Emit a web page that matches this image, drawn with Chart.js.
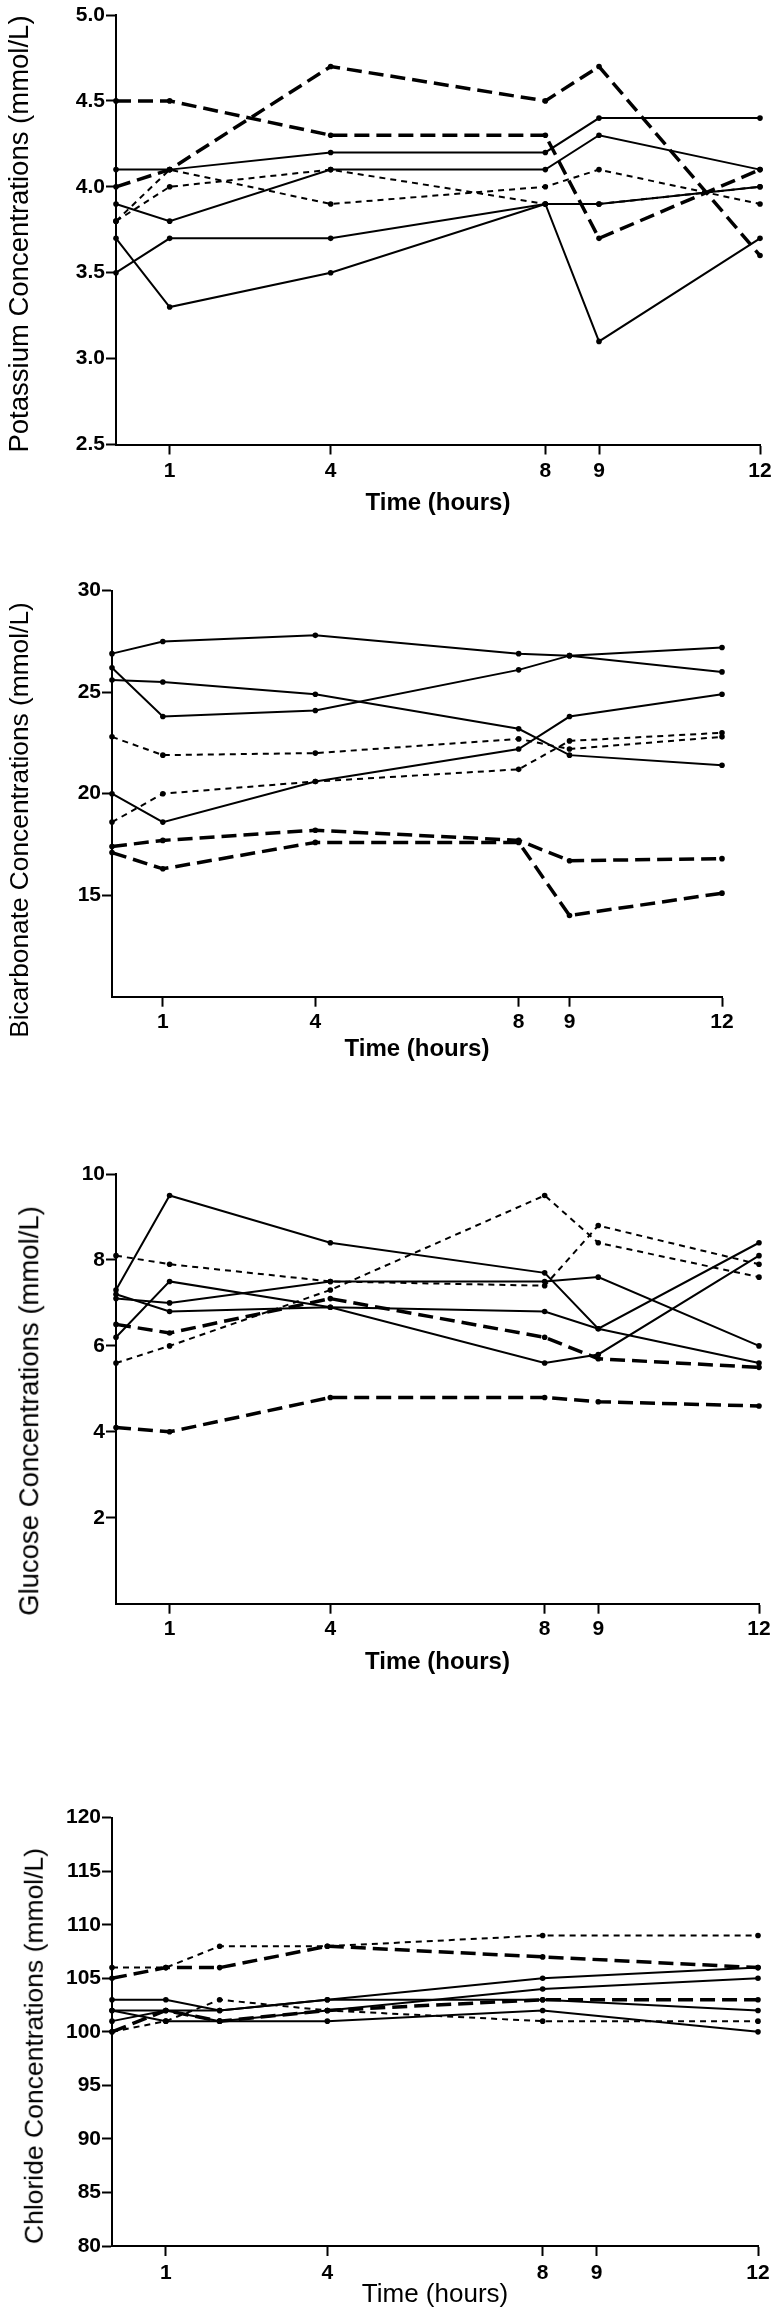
<!DOCTYPE html>
<html><head><meta charset="utf-8">
<script src="https://cdn.jsdelivr.net/npm/chart.js@4.4.1/dist/chart.umd.min.js"></script>
<style>
html,body{margin:0;padding:0;background:#fff;}
body{width:778px;height:2316px;position:relative;overflow:hidden;}
canvas{position:absolute;left:0;}
.ytitle{position:absolute;white-space:nowrap;line-height:1;color:#000;
  font-family:'Liberation Sans', Arial, Helvetica, sans-serif;font-weight:normal;
  transform:translate(-50%,-50%) rotate(-90deg);}
</style></head><body>
<canvas id="c1"></canvas>
<canvas id="c2"></canvas>
<canvas id="c3"></canvas>
<canvas id="c4"></canvas>
<script>
// ---------- data ----------
const times = [0, 1, 4, 8, 9, 12];
const chlorideTimes = [0, 1, 2, 4, 8, 12];
const xTickValues = [1, 4, 8, 9, 12];

// Potassium (mmol/L)
const potassiumTicks = [2.5, 3.0, 3.5, 4.0, 4.5, 5.0];
const potassiumSolid1 = [4.1, 4.1, 4.2, 4.2, 4.4, 4.4];
const potassiumSolid2 = [3.9, 3.8, 4.1, 4.1, 4.3, 4.1];
const potassiumSolid3 = [3.5, 3.7, 3.7, 3.9, 3.9, 4.0];
const potassiumSolid4 = [3.7, 3.3, 3.5, 3.9, 3.1, 3.7];
const potassiumDotted1 = [3.8, 4.0, 4.1, 3.9, 3.9, 4.0];
const potassiumDotted2 = [3.8, 4.1, 3.9, 4.0, 4.1, 3.9];
const potassiumDashed1 = [4.5, 4.5, 4.3, 4.3, 3.7, 4.1];
const potassiumDashed2 = [4.0, 4.1, 4.7, 4.5, 4.7, 3.6];

// Bicarbonate (mmol/L)
const bicarbonateTicks = [15, 20, 25, 30];
const bicarbonateSolid1 = [26.9, 27.5, 27.8, 26.9, 26.8, 27.2];
const bicarbonateSolid2 = [25.6, 25.5, 24.9, 23.2, 21.9, 21.4];
const bicarbonateSolid3 = [26.2, 23.8, 24.1, 26.1, 26.8, 26.0];
const bicarbonateSolid4 = [20.0, 18.6, 20.6, 22.2, 23.8, 24.9];
const bicarbonateDotted1 = [22.8, 21.9, 22.0, 22.7, 22.2, 22.8];
const bicarbonateDotted2 = [18.6, 20.0, 20.6, 21.2, 22.6, 23.0];
const bicarbonateDashed1 = [17.4, 17.7, 18.2, 17.7, 16.7, 16.8];
const bicarbonateDashed2 = [17.1, 16.3, 17.6, 17.6, 14.0, 15.1];

// Glucose (mmol/L)
const glucoseTicks = [2, 4, 6, 8, 10];
const glucoseSolid1 = [7.3, 9.5, 8.4, 7.7, 6.4, 8.4];
const glucoseSolid2 = [6.2, 7.5, 6.9, 5.6, 5.8, 8.1];
const glucoseSolid3 = [7.1, 7.0, 7.5, 7.5, 7.6, 6.0];
const glucoseSolid4 = [7.2, 6.8, 6.9, 6.8, 6.4, 5.6];
const glucoseDotted1 = [8.1, 7.9, 7.5, 7.4, 8.8, 7.9];
const glucoseDotted2 = [5.6, 6.0, 7.3, 9.5, 8.4, 7.6];
const glucoseDashed1 = [6.5, 6.3, 7.1, 6.2, 5.7, 5.5];
const glucoseDashed2 = [4.1, 4.0, 4.8, 4.8, 4.7, 4.6];

// Chloride (mmol/L)
const chlorideTicks = [80, 85, 90, 95, 100, 105, 110, 115, 120];
const chlorideSolid1 = [103, 103, 102, 103, 105, 106];
const chlorideSolid2 = [102, 102, 101, 102, 104, 105];
const chlorideSolid3 = [101, 102, 102, 103, 103, 102];
const chlorideSolid4 = [102, 101, 101, 101, 102, 100];
const chlorideDotted1 = [106, 106, 108, 108, 109, 109];
const chlorideDotted2 = [100, 101, 103, 102, 101, 101];
const chlorideDashed1 = [105, 106, 106, 108, 107, 106];
const chlorideDashed2 = [100, 102, 101, 102, 103, 103];

// ---------- styles ----------
const FONT = "'Liberation Sans', Arial, Helvetica, sans-serif";
const STYLE = {
  solid:  { borderWidth: 2,   borderDash: [] },
  dotted: { borderWidth: 2,   borderDash: [6, 5] },
  dashed: { borderWidth: 3.5, borderDash: [15, 7] }
};

function series(xs, ys, kind) {
  return Object.assign({
    data: xs.map((x, i) => ({ x: x, y: ys[i] })),
    borderColor: '#000',
    backgroundColor: '#000',
    pointRadius: 2.8,
    pointBorderWidth: 0,
    pointBackgroundColor: '#000',
    pointHoverRadius: 2.8,
    fill: false,
    tension: 0,
    clip: false,
    borderCapStyle: 'butt'
  }, STYLE[kind]);
}

function makePanel(p) {
  const cv = document.getElementById(p.id);
  cv.width = 778; cv.height = p.canvasHeight;
  cv.style.top = p.canvasTop + 'px';
  cv.style.width = '778px'; cv.style.height = p.canvasHeight + 'px';
  const tickFont = { family: FONT, size: 21, weight: 'bold' };
  const xTitleLH = p.xTitleSize * 1.2;

  const t = document.createElement('div');
  t.className = 'ytitle';
  t.textContent = p.yTitle;
  t.style.fontSize = p.yTitleSize + 'px';
  t.style.left = p.yTitleCx + 'px';
  t.style.top = p.yTitleCy + 'px';
  document.body.appendChild(t);

  new Chart(cv, {
    type: 'line',
    data: { datasets: p.series },
    options: {
      responsive: false,
      animation: false,
      devicePixelRatio: 1,
      events: [],
      layout: { padding: {
        left: 0,
        top: p.top - p.canvasTop,
        right: 778 - p.right,
        bottom: p.canvasTop + p.canvasHeight - p.bottom - p.xHeight
      } },
      plugins: { legend: { display: false }, tooltip: { enabled: false } },
      scales: {
        x: {
          type: 'linear', min: 0, max: 12,
          afterBuildTicks: s => { s.ticks = xTickValues.map(v => ({ value: v })); },
          afterFit: s => { s.height = p.xHeight; },
          grid: { display: true, drawOnChartArea: false, drawTicks: true, tickLength: 10, tickWidth: 2, tickColor: '#000' },
          border: { display: true, color: '#000', width: 2 },
          ticks: { color: '#000', font: tickFont, padding: p.xLabelOffset - 10 - 12.6, maxRotation: 0, autoSkip: false,
                   callback: v => String(v) },
          title: { display: true, text: 'Time (hours)', color: '#000',
                   font: { family: FONT, size: p.xTitleSize, weight: p.xTitleBold ? 'bold' : 'normal' },
                   padding: { top: 0, bottom: p.xHeight - p.xTitleOffset - xTitleLH / 2 } }
        },
        y: {
          type: 'linear', min: p.yMin, max: p.yMax,
          afterBuildTicks: s => { s.ticks = p.yTicks.map(v => ({ value: v })); },
          afterFit: s => { s.width = p.left; },
          grid: { display: true, drawOnChartArea: false, drawTicks: true, tickLength: 10, tickWidth: 2, tickColor: '#000' },
          border: { display: true, color: '#000', width: 2 },
          ticks: { color: '#000', font: tickFont, padding: 1, autoSkip: false, callback: p.yLabel },
          title: { display: false }
        }
      }
    }
  });
}

makePanel({
  id: 'c1', canvasTop: 0, canvasHeight: 545,
  left: 116, right: 760, top: 15, bottom: 444.5, xHeight: 80,
  yMin: 2.5, yMax: 5.0, yTicks: potassiumTicks, yLabel: v => Number(v).toFixed(1),
  yTitle: 'Potassium Concentrations (mmol/L)', yTitleSize: 27.5, yTitleCx: 19, yTitleCy: 234,
  xTitleSize: 24, xTitleBold: true, xLabelOffset: 27, xTitleOffset: 59,
  series: [
    series(times, potassiumSolid1, 'solid'),
    series(times, potassiumSolid2, 'solid'),
    series(times, potassiumSolid3, 'solid'),
    series(times, potassiumSolid4, 'solid'),
    series(times, potassiumDotted1, 'dotted'),
    series(times, potassiumDotted2, 'dotted'),
    series(times, potassiumDashed1, 'dashed'),
    series(times, potassiumDashed2, 'dashed')
  ]
});

makePanel({
  id: 'c2', canvasTop: 550, canvasHeight: 555,
  left: 112, right: 722, top: 590.7, bottom: 996.7, xHeight: 80,
  yMin: 10, yMax: 30, yTicks: bicarbonateTicks, yLabel: v => String(v),
  yTitle: 'Bicarbonate Concentrations (mmol/L)', yTitleSize: 26.3, yTitleCx: 19, yTitleCy: 820,
  xTitleSize: 24, xTitleBold: true, xLabelOffset: 26, xTitleOffset: 53,
  series: [
    series(times, bicarbonateSolid1, 'solid'),
    series(times, bicarbonateSolid2, 'solid'),
    series(times, bicarbonateSolid3, 'solid'),
    series(times, bicarbonateSolid4, 'solid'),
    series(times, bicarbonateDotted1, 'dotted'),
    series(times, bicarbonateDotted2, 'dotted'),
    series(times, bicarbonateDashed1, 'dashed'),
    series(times, bicarbonateDashed2, 'dashed')
  ]
});

makePanel({
  id: 'c3', canvasTop: 1110, canvasHeight: 580,
  left: 116, right: 759, top: 1174, bottom: 1603.7, xHeight: 80,
  yMin: 0, yMax: 10, yTicks: glucoseTicks, yLabel: v => String(v),
  yTitle: 'Glucose Concentrations (mmol/L)', yTitleSize: 27.5, yTitleCx: 29, yTitleCy: 1411,
  xTitleSize: 24, xTitleBold: true, xLabelOffset: 26, xTitleOffset: 59,
  series: [
    series(times, glucoseSolid1, 'solid'),
    series(times, glucoseSolid2, 'solid'),
    series(times, glucoseSolid3, 'solid'),
    series(times, glucoseSolid4, 'solid'),
    series(times, glucoseDotted1, 'dotted'),
    series(times, glucoseDotted2, 'dotted'),
    series(times, glucoseDashed1, 'dashed'),
    series(times, glucoseDashed2, 'dashed')
  ]
});

makePanel({
  id: 'c4', canvasTop: 1700, canvasHeight: 616,
  left: 112, right: 758, top: 1817.7, bottom: 2246, xHeight: 70,
  yMin: 80, yMax: 120, yTicks: chlorideTicks, yLabel: v => String(v),
  yTitle: 'Chloride Concentrations (mmol/L)', yTitleSize: 26.5, yTitleCx: 34, yTitleCy: 2046,
  xTitleSize: 26, xTitleBold: false, xLabelOffset: 27, xTitleOffset: 49,
  series: [
    series(chlorideTimes, chlorideSolid1, 'solid'),
    series(chlorideTimes, chlorideSolid2, 'solid'),
    series(chlorideTimes, chlorideSolid3, 'solid'),
    series(chlorideTimes, chlorideSolid4, 'solid'),
    series(chlorideTimes, chlorideDotted1, 'dotted'),
    series(chlorideTimes, chlorideDotted2, 'dotted'),
    series(chlorideTimes, chlorideDashed1, 'dashed'),
    series(chlorideTimes, chlorideDashed2, 'dashed')
  ]
});
</script>
</body></html>
